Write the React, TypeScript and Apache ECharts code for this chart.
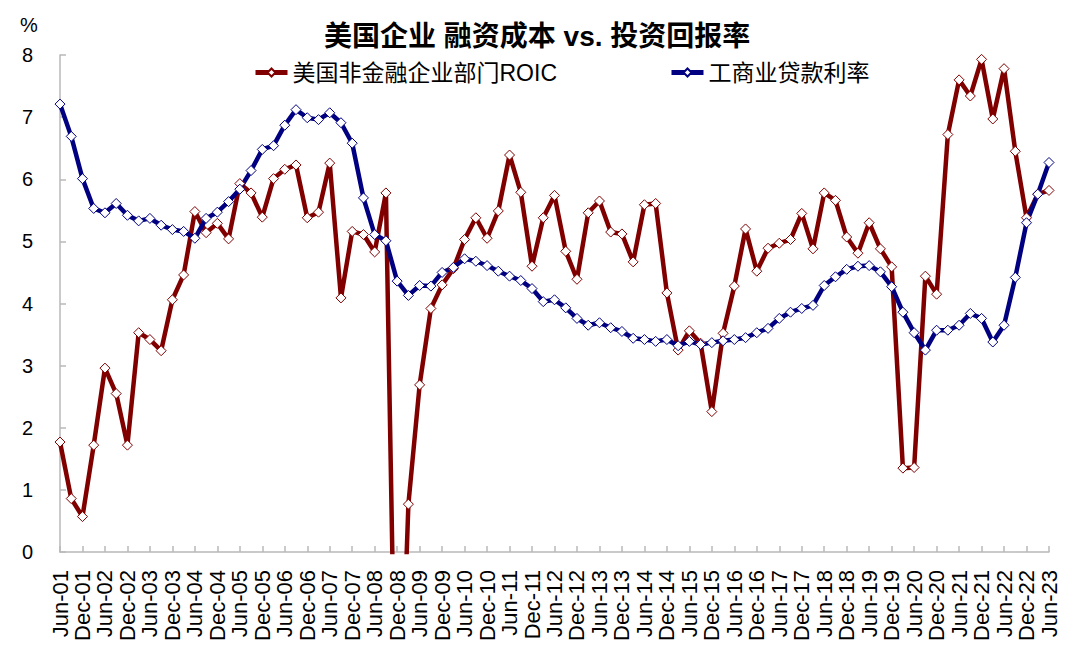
import React, { useEffect, useRef } from "react";
import * as echarts from "echarts";

const categories = [
  "Jun-01", "Sep-01", "Dec-01",
  "Mar-02", "Jun-02", "Sep-02", "Dec-02",
  "Mar-03", "Jun-03", "Sep-03", "Dec-03",
  "Mar-04", "Jun-04", "Sep-04", "Dec-04",
  "Mar-05", "Jun-05", "Sep-05", "Dec-05",
  "Mar-06", "Jun-06", "Sep-06", "Dec-06",
  "Mar-07", "Jun-07", "Sep-07", "Dec-07",
  "Mar-08", "Jun-08", "Sep-08", "Dec-08",
  "Mar-09", "Jun-09", "Sep-09", "Dec-09",
  "Mar-10", "Jun-10", "Sep-10", "Dec-10",
  "Mar-11", "Jun-11", "Sep-11", "Dec-11",
  "Mar-12", "Jun-12", "Sep-12", "Dec-12",
  "Mar-13", "Jun-13", "Sep-13", "Dec-13",
  "Mar-14", "Jun-14", "Sep-14", "Dec-14",
  "Mar-15", "Jun-15", "Sep-15", "Dec-15",
  "Mar-16", "Jun-16", "Sep-16", "Dec-16",
  "Mar-17", "Jun-17", "Sep-17", "Dec-17",
  "Mar-18", "Jun-18", "Sep-18", "Dec-18",
  "Mar-19", "Jun-19", "Sep-19", "Dec-19",
  "Mar-20", "Jun-20", "Sep-20", "Dec-20",
  "Mar-21", "Jun-21", "Sep-21", "Dec-21",
  "Mar-22", "Jun-22", "Sep-22", "Dec-22",
  "Mar-23", "Jun-23",
];

const roic = [
  1.77, 0.86, 0.57, 1.72, 2.96, 2.55, 1.72, 3.53, 3.42, 3.24, 4.06, 4.46, 5.48,
  5.14, 5.29, 5.04, 5.93, 5.78, 5.39, 6.01, 6.16, 6.23, 5.38, 5.47, 6.26, 4.09,
  5.16, 5.11, 4.83, 5.78, -4.4, 0.77, 2.69, 3.92, 4.3, 4.56, 5.03, 5.38, 5.05,
  5.49, 6.39, 5.79, 4.6, 5.38, 5.74, 4.84, 4.39,
  5.46, 5.65, 5.15, 5.12, 4.67, 5.59, 5.61, 4.17, 3.25, 3.56, 3.36, 2.26, 3.52,
  4.28, 5.2, 4.52, 4.89, 4.97, 5.03, 5.45, 4.88,
  5.78, 5.66, 5.07, 4.81, 5.3, 4.88, 4.59, 1.35, 1.36, 4.44, 4.15, 6.72, 7.6,
  7.34, 7.93, 6.97, 7.78, 6.45, 5.38, 5.76, 5.82,
];

const loanRate = [
  7.21, 6.69, 6.01, 5.53, 5.46, 5.61, 5.42, 5.33, 5.37, 5.26, 5.19, 5.16, 5.05,
  5.37, 5.47, 5.64, 5.84, 6.14, 6.48, 6.54, 6.87, 7.12, 6.99, 6.96, 7.07, 6.91,
  6.58, 5.7, 5.11, 5.01, 4.36, 4.13, 4.29, 4.28, 4.5, 4.58, 4.72, 4.68, 4.61,
  4.52, 4.44, 4.37, 4.24, 4.03, 4.06, 3.93, 3.76,
  3.65, 3.69, 3.61, 3.55, 3.44, 3.42, 3.39, 3.42, 3.32, 3.39, 3.34, 3.37, 3.4,
  3.42, 3.45, 3.53, 3.6, 3.76, 3.86, 3.92, 3.97,
  4.29, 4.43, 4.55, 4.6, 4.61, 4.51, 4.27, 3.86, 3.53, 3.25, 3.57, 3.57, 3.65,
  3.84, 3.76, 3.38, 3.65, 4.42, 5.3, 5.76, 6.27,
];

const seriesNames = ["美国非金融企业部门ROIC", "工商业贷款利率"];
const titleText = "美国企业 融资成本 vs. 投资回报率";
const yUnit = "%";

const FONT = "'Liberation Sans', Arial, 'Noto Sans CJK SC', sans-serif";
const AXIS_GRAY = "#b8b8b8";

export default function App() {
  const ref = useRef<HTMLDivElement>(null);

  useEffect(() => {
    if (!ref.current) return;
    const chart = echarts.init(ref.current, undefined, { renderer: "svg" });
    const lineSeries = (name: string, data: number[], color: string) => ({
      name,
      type: "line",
      data,
      symbol: "diamond",
      symbolSize: 10,
      showAllSymbol: true,
      clip: true,
      lineStyle: { color, width: 4.5 },
      itemStyle: { color: "#ffffff", borderColor: color, borderWidth: 1 },
      emphasis: { disabled: true },
    });
    chart.setOption({
      animation: false,
      backgroundColor: "#ffffff",
      title: {
        text: titleText,
        left: 319,
        top: 17,
        textStyle: { fontSize: 28, fontWeight: "bold", color: "#000", fontFamily: FONT },
      },
      legend: {
        left: 248,
        top: 56,
        itemWidth: 32,
        itemHeight: 10,
        itemGap: 112,
        lineStyle: { width: 5 },
        textStyle: { fontSize: 23, color: "#000", fontFamily: FONT },
        data: seriesNames,
      },
      graphic: [
        {
          type: "text",
          left: 20,
          top: 15,
          style: { text: yUnit, fontSize: 20, fill: "#000", fontFamily: FONT },
        },
      ],
      grid: { left: 60, right: 31, top: 55, bottom: 96 },
      xAxis: {
        type: "category",
        data: categories,
        boundaryGap: false,
        axisLine: { lineStyle: { color: AXIS_GRAY, width: 1.5 } },
        axisTick: { interval: 1, inside: true, length: 6, lineStyle: { color: AXIS_GRAY, width: 1.5 } },
        axisLabel: {
          interval: 1,
          rotate: 90,
          margin: 18,
          fontSize: 22,
          color: "#000",
          fontFamily: FONT,
        },
        splitLine: { show: false },
      },
      yAxis: {
        type: "value",
        min: 0,
        max: 8,
        interval: 1,
        axisLine: { show: true, lineStyle: { color: AXIS_GRAY, width: 1.5 } },
        axisTick: { show: true, inside: true, length: 6, lineStyle: { color: AXIS_GRAY, width: 1.5 } },
        axisLabel: { margin: 27, fontSize: 20, color: "#000", fontFamily: FONT },
        splitLine: { show: false },
      },
      series: [
        lineSeries(seriesNames[0], roic, "#800000"),
        lineSeries(seriesNames[1], loanRate, "#000080"),
      ],
    });
    return () => chart.dispose();
  }, []);

  return (
    <div
      ref={ref}
      style={{ position: "fixed", left: 0, top: 0, width: 1080, height: 648, background: "#fff" }}
    />
  );
}
